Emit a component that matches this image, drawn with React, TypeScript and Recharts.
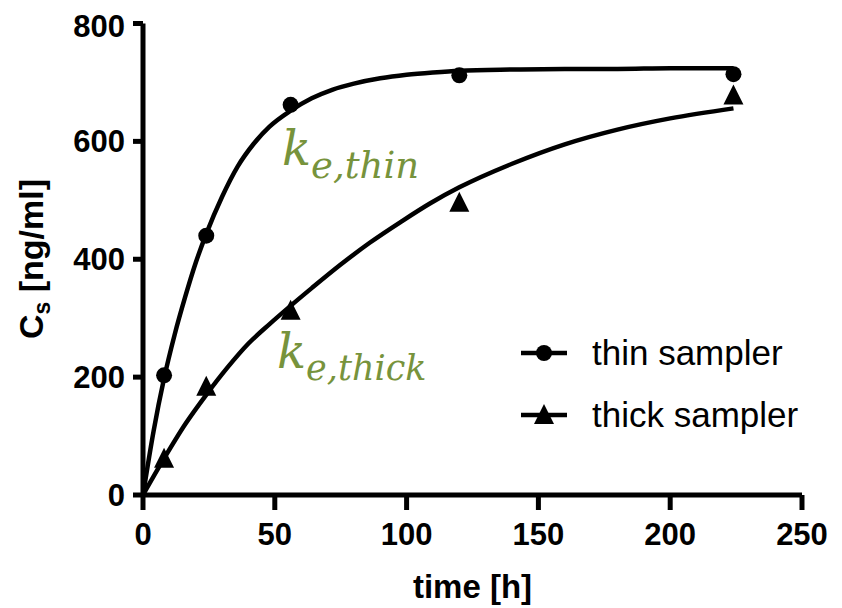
import { ComposedChart, Line, Scatter, XAxis, YAxis } from 'recharts'

// measured samples (t in h, Cs in ng/ml)
const thinPoints = [
    { t: 8, c: 203 },
    { t: 24, c: 440 },
    { t: 56, c: 662 },
    { t: 120, c: 712 },
    { t: 224, c: 714 },
]
const thickPoints = [
    { t: 8, c: 60 },
    { t: 24, c: 182 },
    { t: 56, c: 311 },
    { t: 120, c: 494 },
    { t: 224, c: 676 },
]

// fitted curves
const thinFit = [
    { t: 0, c: 0 }, { t: 4, c: 108 }, { t: 8, c: 198 }, { t: 12, c: 272 }, { t: 16, c: 336 },
    { t: 20, c: 394 }, { t: 24, c: 443 }, { t: 30, c: 506 }, { t: 36, c: 558 }, { t: 42, c: 596 },
    { t: 48, c: 625 }, { t: 56, c: 652 }, { t: 64, c: 673 }, { t: 72, c: 688 }, { t: 80, c: 698 },
    { t: 90, c: 707 }, { t: 100, c: 713 }, { t: 110, c: 717 }, { t: 120, c: 720 }, { t: 140, c: 722 },
    { t: 160, c: 723 }, { t: 180, c: 723 }, { t: 200, c: 724 }, { t: 224, c: 724 },
]
const thickFit = [
    { t: 0, c: 0 }, { t: 8, c: 62 }, { t: 16, c: 120 }, { t: 24, c: 170 }, { t: 32, c: 216 },
    { t: 40, c: 257 }, { t: 48, c: 290 }, { t: 56, c: 321 }, { t: 64, c: 351 }, { t: 75, c: 391 },
    { t: 86, c: 428 }, { t: 98, c: 464 }, { t: 109, c: 495 }, { t: 120, c: 522 }, { t: 140, c: 562 },
    { t: 160, c: 595 }, { t: 180, c: 620 }, { t: 200, c: 639 }, { t: 224, c: 656 },
]

const xTicks = [0, 50, 100, 150, 200, 250]
const yTicks = [0, 200, 400, 600, 800]
const legendItems = [
    { name: 'thin sampler', marker: 'circle' },
    { name: 'thick sampler', marker: 'triangle' },
]

const SANS = '"Liberation Sans", Arial, sans-serif'
const GREEN = '#77933c'

const Circle = (props: any) => <circle cx={props.cx} cy={props.cy} r={8} fill="#000" />
const Triangle = (props: any) => {
    const { cx, cy } = props
    return <polygon points={`${cx},${cy - 12} ${cx + 10},${cy + 8} ${cx - 10},${cy + 8}`} fill="#000" />
}

// y title sits at a fixed spot left of the tick labels
const YTitle = () => (
    <text transform="translate(35,251) rotate(-90)" textAnchor="middle" fontFamily={SANS} fontWeight="bold" fontSize={34} fill="#000">
        C<tspan fontSize={23} dy={7}>s</tspan><tspan dy={-7}> [ng/ml]</tspan>
    </text>
)

const XTitle = (props: any) => {
    const vb = props.viewBox || { x: 0, y: 0, width: 0 }
    return (
        <text x={vb.x + vb.width / 2} y={vb.y + 103} textAnchor="middle" fontFamily={SANS} fontWeight="bold" fontSize={33} fill="#000">
            time [h]
        </text>
    )
}

const LegendBox = () => (
    <div style={{ position: 'absolute', left: 512, top: 314, fontFamily: SANS, fontSize: 35, color: '#000' }}>
        {legendItems.map((it) => (
            <div key={it.name} style={{ display: 'flex', alignItems: 'center', height: 62 }}>
                <svg width={48} height={30} style={{ marginRight: 24 }}>
                    <line x1={1} y1={15} x2={47} y2={15} stroke="#000" strokeWidth={4.5} />
                    {it.marker === 'circle' ? <Circle cx={24} cy={15} /> : <Triangle cx={24} cy={16} />}
                </svg>
                <span>{it.name}</span>
            </div>
        ))}
    </div>
)

export default function App() {
    return (
        <div style={{ position: 'relative', width: 834, height: 600 }}>
            <ComposedChart width={834} height={600} margin={{ top: 15.5, right: 40, left: 0, bottom: 0 }}>
                <XAxis
                    dataKey="t"
                    type="number"
                    domain={[0, 250]}
                    ticks={xTicks}
                    height={113}
                    stroke="#000"
                    strokeWidth={5}
                    tickSize={15}
                    tickMargin={13}
                    tick={{ fill: '#000', fontFamily: SANS, fontWeight: 'bold', fontSize: 31 }}
                    label={<XTitle />}
                />
                <YAxis
                    dataKey="c"
                    type="number"
                    domain={[0, 800]}
                    ticks={yTicks}
                    width={135}
                    stroke="#000"
                    strokeWidth={5}
                    tickSize={10}
                    tickMargin={8}
                    tick={{ fill: '#000', fontFamily: SANS, fontWeight: 'bold', fontSize: 31 }}
                    label={<YTitle />}
                />
                <Line data={thinFit} dataKey="c" type="monotone" stroke="#000" strokeWidth={4.5} dot={false} isAnimationActive={false} />
                <Line data={thickFit} dataKey="c" type="monotone" stroke="#000" strokeWidth={4.5} dot={false} isAnimationActive={false} />
                <Scatter data={thinPoints} dataKey="c" name="thin sampler" shape={<Circle />} isAnimationActive={false} />
                <Scatter data={thickPoints} dataKey="c" name="thick sampler" shape={<Triangle />} isAnimationActive={false} />
            </ComposedChart>
            <svg width={834} height={600} style={{ position: 'absolute', left: 0, top: 0, pointerEvents: 'none' }}>
                <text x={274} y={157} fontFamily="DejaVu Serif" fontStyle="italic" fontSize={48} fill={GREEN}>
                    k<tspan fontSize={37} dy={13}>e,thin</tspan>
                </text>
                <text x={269} y={360} fontFamily="DejaVu Serif" fontStyle="italic" fontSize={48} fill={GREEN}>
                    k<tspan fontSize={35} dy={12}>e,thick</tspan>
                </text>
            </svg>
            <LegendBox />
        </div>
    )
}
